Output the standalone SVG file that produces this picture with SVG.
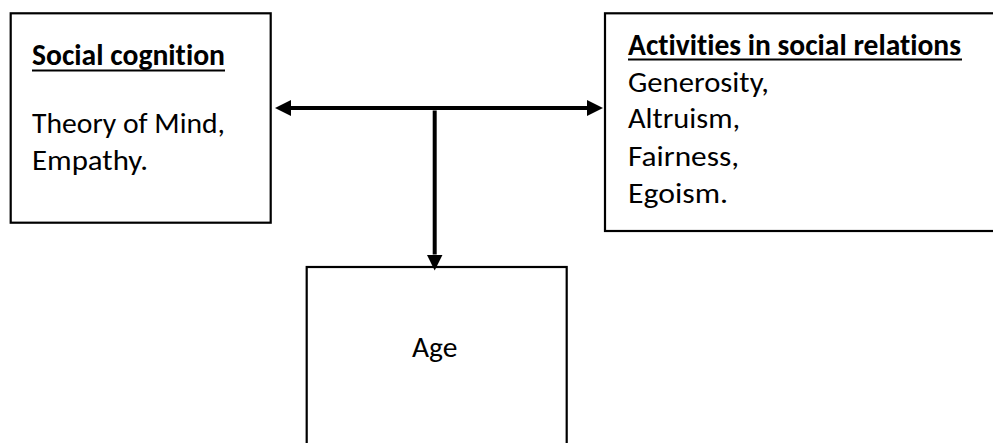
<svg xmlns="http://www.w3.org/2000/svg" width="993" height="443" viewBox="0 0 993 443">
  <style>
    .box { fill: #ffffff; stroke: #000000; stroke-width: 2.2; }
    .t { font-family: Carlito, Lato, "Open Sans", sans-serif; font-size: 29.5px; fill: #000000; font-variant-ligatures: none; }
    .b { font-weight: bold; }
    .ul { stroke: #000000; stroke-width: 2; }
    .conn { stroke: #000000; stroke-width: 4; fill: none; }
  </style>
  <defs>
    <marker id="arrow" viewBox="0 0 16 16" markerWidth="16" markerHeight="16" markerUnits="userSpaceOnUse" refX="0" refY="8" orient="auto-start-reverse">
      <path d="M0,0 L16,8 L0,16 Z" fill="#000000"/>
    </marker>
  </defs>
  <rect width="993" height="443" fill="#ffffff"/>

  <g id="social-cognition">
    <rect class="box" x="10.7" y="13.3" width="260" height="209.4"/>
    <text class="t b" x="32" y="64.5" textLength="193" lengthAdjust="spacingAndGlyphs">Social cognition</text>
    <line class="ul" x1="32" y1="70.5" x2="225" y2="70.5"/>
    <text class="t" x="32" y="133" textLength="193" lengthAdjust="spacingAndGlyphs">Theory of Mind,</text>
    <text class="t" x="32" y="170" textLength="116" lengthAdjust="spacingAndGlyphs">Empathy.</text>
  </g>

  <g id="activities">
    <rect class="box" x="605" y="13.3" width="400" height="217.7"/>
    <text class="t b" x="628" y="54.5" textLength="333" lengthAdjust="spacingAndGlyphs">Activities in social relations</text>
    <line class="ul" x1="628" y1="59.5" x2="962" y2="59.5"/>
    <text class="t" x="628" y="91.5" textLength="141" lengthAdjust="spacingAndGlyphs">Generosity,</text>
    <text class="t" x="628" y="127.5" textLength="112" lengthAdjust="spacingAndGlyphs">Altruism,</text>
    <text class="t" x="628" y="166" textLength="111" lengthAdjust="spacingAndGlyphs">Fairness,</text>
    <text class="t" x="628" y="203" textLength="100" lengthAdjust="spacingAndGlyphs">Egoism.</text>
  </g>

  <g id="age">
    <rect class="box" x="306.7" y="267" width="260" height="200"/>
    <text class="t" x="434.7" y="357" text-anchor="middle">Age</text>
  </g>

  <g id="connectors">
    <line class="conn" x1="291" y1="108" x2="587" y2="108" marker-start="url(#arrow)" marker-end="url(#arrow)"/>
    <line class="conn" x1="434.7" y1="110.5" x2="434.7" y2="254.5" marker-end="url(#arrow)"/>
  </g>
</svg>
